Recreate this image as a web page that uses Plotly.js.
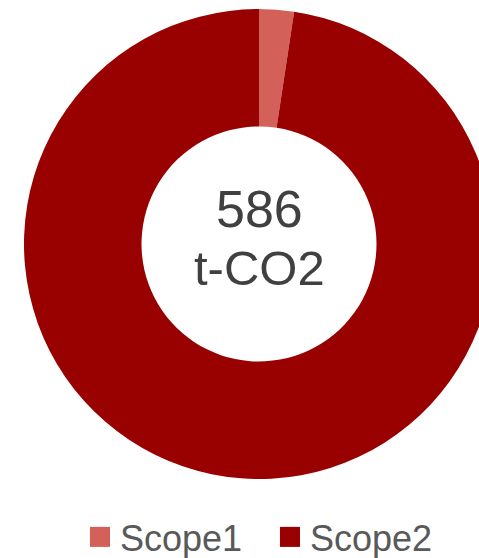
<!DOCTYPE html>
<html>
<head>
<meta charset="utf-8">
<script src="https://cdn.plot.ly/plotly-3.0.1.min.js"></script>
<style>
  html, body { margin: 0; padding: 0; overflow: hidden; background: #fff; }
  #chart { width: 518px; height: 558px; }
  /* larger square swatches in the legend */
  .legendpie { transform: translate(20px, 0px) scale(1.67); }
</style>
</head>
<body>
<div id="chart"></div>
<script>
// Emissions by scope (t-CO2)
const scopes = ['Scope1', 'Scope2'];
const emissions = [14, 572];
const sliceColors = ['#D4605A', '#990000'];
const totalLabel = '586';
const unitLabel = 't-CO2';

const FONT = '"Liberation Sans", Arial, sans-serif';

const trace = {
  type: 'pie',
  labels: scopes,
  values: emissions,
  hole: 0.5,
  sort: false,
  direction: 'clockwise',
  rotation: 0,
  textinfo: 'none',
  hoverinfo: 'label+value',
  marker: { colors: sliceColors, line: { width: 0 } },
  domain: { x: [0, 1], y: [0, 1] }
};

const layout = {
  width: 518,
  height: 558,
  margin: { l: 0, r: 0, t: 9, b: 79, autoexpand: false },
  paper_bgcolor: '#ffffff',
  showlegend: true,
  legend: {
    orientation: 'h',
    x: 0.1544, xanchor: 'left',
    y: -0.1234, yanchor: 'middle',
    font: { family: FONT, size: 36, color: '#595959' },
    entrywidth: 145, entrywidthmode: 'pixels',
    itemclick: false, itemdoubleclick: false
  },
  annotations: [
    { text: totalLabel, x: 0.5, y: 0.574, xref: 'paper', yref: 'paper',
      xanchor: 'center', yanchor: 'middle', showarrow: false,
      font: { family: FONT, size: 52, color: '#404040' } },
    { text: unitLabel, x: 0.5, y: 0.45, xref: 'paper', yref: 'paper',
      xanchor: 'center', yanchor: 'middle', showarrow: false,
      font: { family: FONT, size: 49, color: '#404040' } }
  ]
};

Plotly.newPlot('chart', [trace], layout, { displayModeBar: false, staticPlot: true });
</script>
</body>
</html>
